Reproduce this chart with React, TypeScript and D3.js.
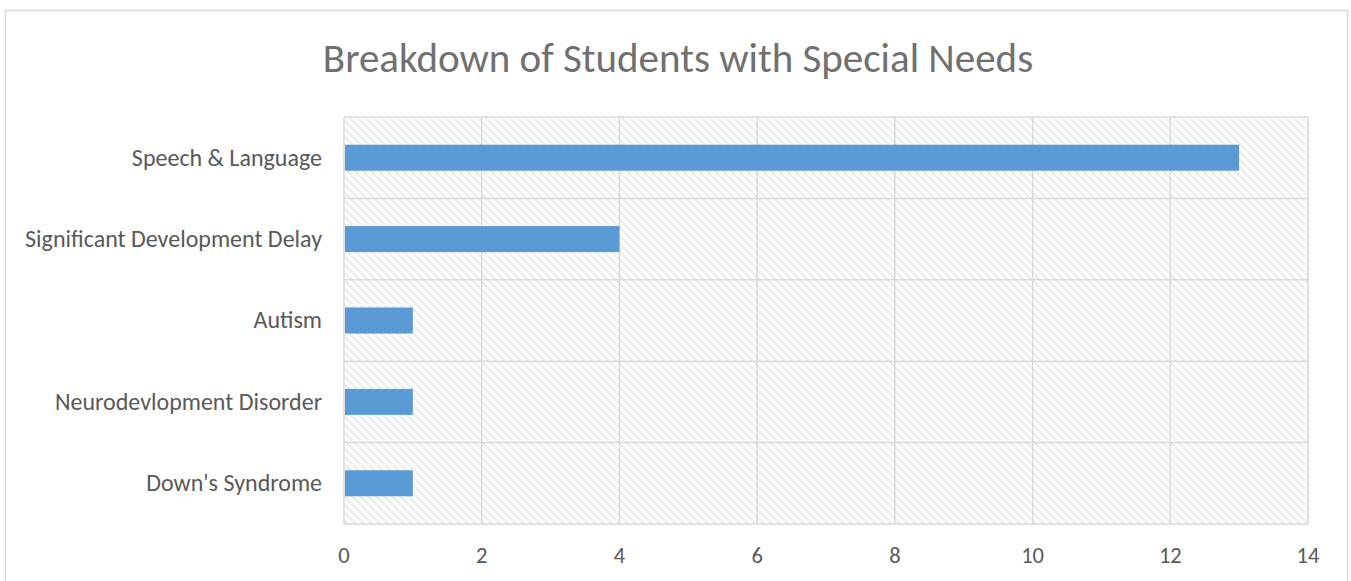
import React from "react";
import * as d3 from "d3";

const categories = ["Speech & Language", "Significant Development Delay", "Autism", "Neurodevlopment Disorder", "Down's Syndrome"];
const values = [13, 4, 1, 1, 1];
const xTicks = [0, 2, 4, 6, 8, 10, 12, 14];
const title = "Breakdown of Students with Special Needs";

export default function App() {
  const W = 1351, H = 581;
  const left = 344, right = 1308, top = 117, bottom = 524;
  const x = d3.scaleLinear().domain([0, 14]).range([left, right]);
  const y = d3.scaleBand().domain(categories).range([top, bottom]).paddingInner(0).paddingOuter(0);
  const bw = y.bandwidth() * 0.32;
  const font = "Carlito, 'Open Sans', 'Noto Sans', sans-serif";
  return (
    <svg width={W} height={H} style={{ position: "absolute", left: 0, top: 0, background: "#fff" }}>
      <defs>
        <pattern id="hatch" width="8" height="8" patternUnits="userSpaceOnUse">
          <path d="M-1,-1 L9,9 M-1,7 L1,9 M7,-1 L9,1" stroke="#d6d6d6" strokeWidth="1.4" strokeDasharray="2 1" />
        </pattern>
      </defs>
      <rect x={5.5} y={10.5} width={1342} height={600} fill="#fff" stroke="#d9d9d9" strokeWidth={1.5} />
      <text x={678} y={72} textAnchor="middle" fontFamily={font} fontSize={41} fill="#707070">{title}</text>
      <rect x={left} y={top} width={right - left} height={bottom - top} fill="url(#hatch)" />
      {xTicks.map(t => (
        <line key={"v" + t} x1={x(t)} x2={x(t)} y1={top} y2={bottom} stroke="#d9d9d9" strokeWidth={1.5} />
      ))}
      {categories.map(c => (
        <line key={"h" + c} x1={left} x2={right} y1={y(c)!} y2={y(c)!} stroke="#d9d9d9" strokeWidth={1.5} />
      ))}
      <line x1={left} x2={right} y1={bottom} y2={bottom} stroke="#d9d9d9" strokeWidth={1.5} />
      {categories.map((c, i) => (
        <rect key={"b" + c} x={x(0) + 1} y={y(c)! + y.bandwidth() / 2 - bw / 2} width={x(values[i]) - x(0) - 1} height={bw} fill="#5B9BD5" />
      ))}
      {categories.map(c => (
        <text key={"l" + c} x={322} y={y(c)! + y.bandwidth() / 2} dy="0.33em" textAnchor="end" fontFamily={font} fontSize={24} fill="#595959">{c}</text>
      ))}
      {xTicks.map(t => (
        <text key={"t" + t} x={x(t)} y={563} textAnchor="middle" fontFamily={font} fontSize={22.5} fill="#595959">{t}</text>
      ))}
    </svg>
  );
}
